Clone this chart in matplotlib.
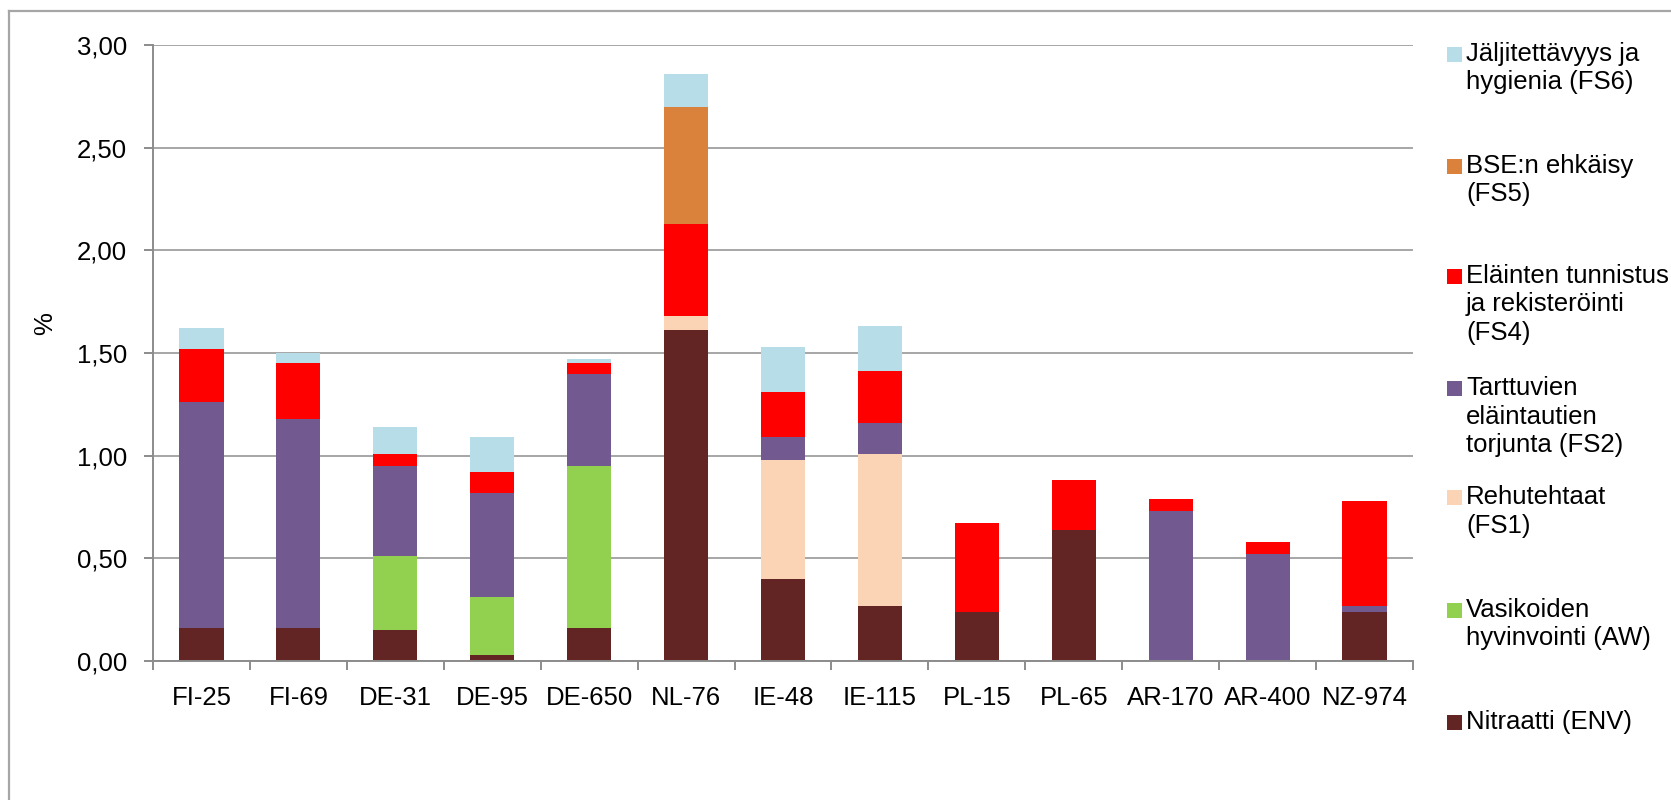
import matplotlib
matplotlib.use("Agg")
import matplotlib.pyplot as plt
from matplotlib.ticker import FuncFormatter, FixedLocator
from matplotlib.lines import Line2D
from matplotlib.patches import Rectangle
import numpy as np

plt.rcParams['font.family'] = ['Liberation Sans', 'DejaVu Sans']

categories = ["FI-25", "FI-69", "DE-31", "DE-95", "DE-650", "NL-76", "IE-48",
              "IE-115", "PL-15", "PL-65", "AR-170", "AR-400", "NZ-974"]

# stacked from bottom to top
env = [0.16, 0.16, 0.15, 0.03, 0.16, 1.61, 0.40, 0.27, 0.24, 0.64, 0.00, 0.00, 0.24]
aw  = [0.00, 0.00, 0.36, 0.28, 0.79, 0.00, 0.00, 0.00, 0.00, 0.00, 0.00, 0.00, 0.00]
fs1 = [0.00, 0.00, 0.00, 0.00, 0.00, 0.07, 0.58, 0.74, 0.00, 0.00, 0.00, 0.00, 0.00]
fs2 = [1.10, 1.02, 0.44, 0.51, 0.45, 0.00, 0.11, 0.15, 0.00, 0.00, 0.73, 0.52, 0.03]
fs4 = [0.26, 0.27, 0.06, 0.10, 0.05, 0.45, 0.22, 0.25, 0.43, 0.24, 0.06, 0.06, 0.51]
fs5 = [0.00, 0.00, 0.00, 0.00, 0.00, 0.57, 0.00, 0.00, 0.00, 0.00, 0.00, 0.00, 0.00]
fs6 = [0.10, 0.05, 0.13, 0.17, 0.02, 0.16, 0.22, 0.22, 0.00, 0.00, 0.00, 0.00, 0.00]

series = [env, aw, fs1, fs2, fs4, fs5, fs6]
series_labels = ["Nitraatti (ENV)",
                 "Vasikoiden\nhyvinvointi (AW)",
                 "Rehutehtaat\n(FS1)",
                 "Tarttuvien\neläintautien\ntorjunta (FS2)",
                 "Eläinten tunnistus\nja rekisteröinti\n(FS4)",
                 "BSE:n ehkäisy\n(FS5)",
                 "Jäljitettävyys ja\nhygienia (FS6)"]
colors = ["#632523", "#92D050", "#FAD4B5", "#725A90", "#FF0000", "#DA823C", "#B7DEE8"]

yticks = [0.0, 0.5, 1.0, 1.5, 2.0, 2.5, 3.0]

W, H = 1671, 800
fig = plt.figure(figsize=(W / 100, H / 100), dpi=100)
ax = fig.add_axes([153 / W, 1 - 661 / H, (1413 - 153) / W, (661 - 45) / H])

x = np.arange(len(categories))
bottom = np.zeros(len(categories))
for vals, col in zip(series, colors):
    v = np.array(vals)
    ax.bar(x, v, bottom=bottom, width=0.455, color=col, linewidth=0, zorder=3)
    bottom += v

ax.set_xlim(-0.5, len(categories) - 0.5)
ax.set_ylim(0, 3.0)
ax.set_yticks(yticks)
ax.yaxis.set_major_formatter(FuncFormatter(lambda v, p: f"{v:.2f}".replace(".", ",")))
ax.set_xticks(x)
ax.set_xticklabels(categories)
ax.xaxis.set_minor_locator(FixedLocator(np.arange(-0.5, len(categories), 1.0)))

grid_col = "#A6A6A6"
ax.grid(axis="y", color=grid_col, linewidth=1.4, zorder=0)
ax.set_axisbelow(True)
for s in ["top", "right"]:
    ax.spines[s].set_visible(False)
for s in ["left", "bottom"]:
    ax.spines[s].set_color("#8C8C8C")
    ax.spines[s].set_linewidth(1.4)
    ax.spines[s].set_zorder(4)

ax.tick_params(axis="y", which="major", length=6.5, width=1.4, color="#8C8C8C",
               labelsize=18.5, pad=12)
ax.tick_params(axis="x", which="major", length=0, labelsize=18.5, pad=18)
ax.tick_params(axis="x", which="minor", length=6.5, width=1.4, color="#8C8C8C")

fig.text(45 / W, 1 - 324 / H, "%", rotation=90, fontsize=18.5,
         ha="center", va="center")

# legend (top entry first)
leg_first_y = [722, 610, 497, 388, 276, 166, 54]
line_gap = 28.5
for lab, col, y0 in zip(series_labels, colors, leg_first_y):
    fig.patches.append(Rectangle((1447 / W, 1 - (y0 + 8) / H), 15 / W, 15 / H,
                                 transform=fig.transFigure, facecolor=col,
                                 edgecolor="none", figure=fig))
    for i, line in enumerate(lab.split("\n")):
        fig.text(1466 / W, 1 - (y0 + i * line_gap) / H, line, fontsize=18.5,
                 ha="left", va="center")

# outer chart frame
fig.add_artist(Line2D([9 / W, 1.0], [1 - 11 / H, 1 - 11 / H], transform=fig.transFigure,
                      color=grid_col, linewidth=1.6))
fig.add_artist(Line2D([9 / W, 9 / W], [1 - 11 / H, 0.0], transform=fig.transFigure,
                      color=grid_col, linewidth=1.6))

fig.savefig("out.png", dpi=100)
